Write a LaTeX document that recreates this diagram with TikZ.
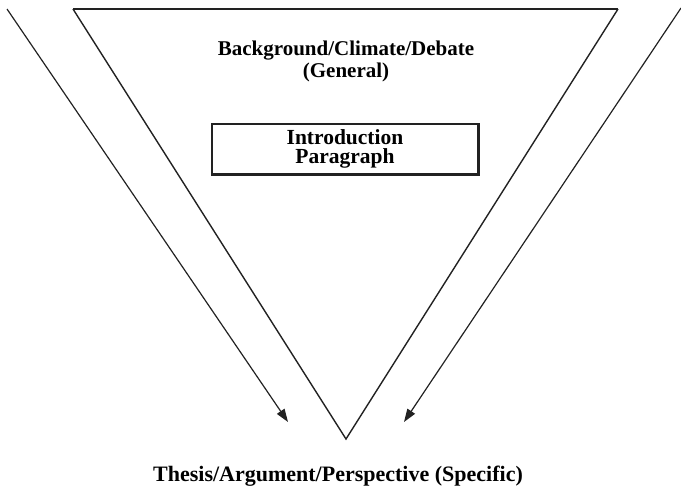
\documentclass[tikz,border=0pt]{standalone}
\usepackage{fontspec}
\setmainfont{Liberation Serif}
\usetikzlibrary{arrows.meta}
\definecolor{ink}{HTML}{222222}
\tikzset{
  funnel/.style={draw=ink, line width=1.4pt, line join=miter},
  flowarrow/.style={draw=ink, line width=1.2pt, -{Triangle[length=13pt,width=9pt]}},
  label/.style={font=\fontsize{21pt}{22pt}\selectfont\bfseries, inner sep=0pt, align=center},
  biglabel/.style={font=\fontsize{22pt}{22pt}\selectfont\bfseries, inner sep=0pt, align=center},
  introbox/.style={draw=ink, line width=1.1pt, minimum width=266pt, minimum height=50pt, inner sep=0pt, align=center,
    font=\fontsize{21.5pt}{19.5pt}\selectfont\bfseries}
}
\begin{document}
\begin{tikzpicture}[x=1pt,y=-1pt]
\useasboundingbox (0,0) rectangle (681,490);
% funnel
\coordinate (tl) at (73,9);
\coordinate (tr) at (618,9);
\coordinate (ap) at (346,439);
\draw[funnel] (tr) -- (ap) -- (tl);
\draw[draw=ink, line width=2pt] (tl) -- (tr);
% side arrows
\coordinate (la) at (7,9);
\coordinate (lb) at (288,422);
\coordinate (ra) at (681,8);
\coordinate (rb) at (404,422);
\draw[flowarrow] (la) -- (lb);
\draw[flowarrow] (ra) -- (rb);
% texts
\node[label, anchor=base] (bg) at (346,77) {Background/Climate/Debate\\(General)};
\node[introbox] (intro) at (345,149) {Introduction\\Paragraph};
\draw[draw=ink, line width=2.2pt] (intro.north east) -- (intro.south east) -- (intro.south west);
\node[biglabel, anchor=base] (thesis) at (338,481) {Thesis/Argument/Perspective (Specific)};
\end{tikzpicture}
\end{document}
